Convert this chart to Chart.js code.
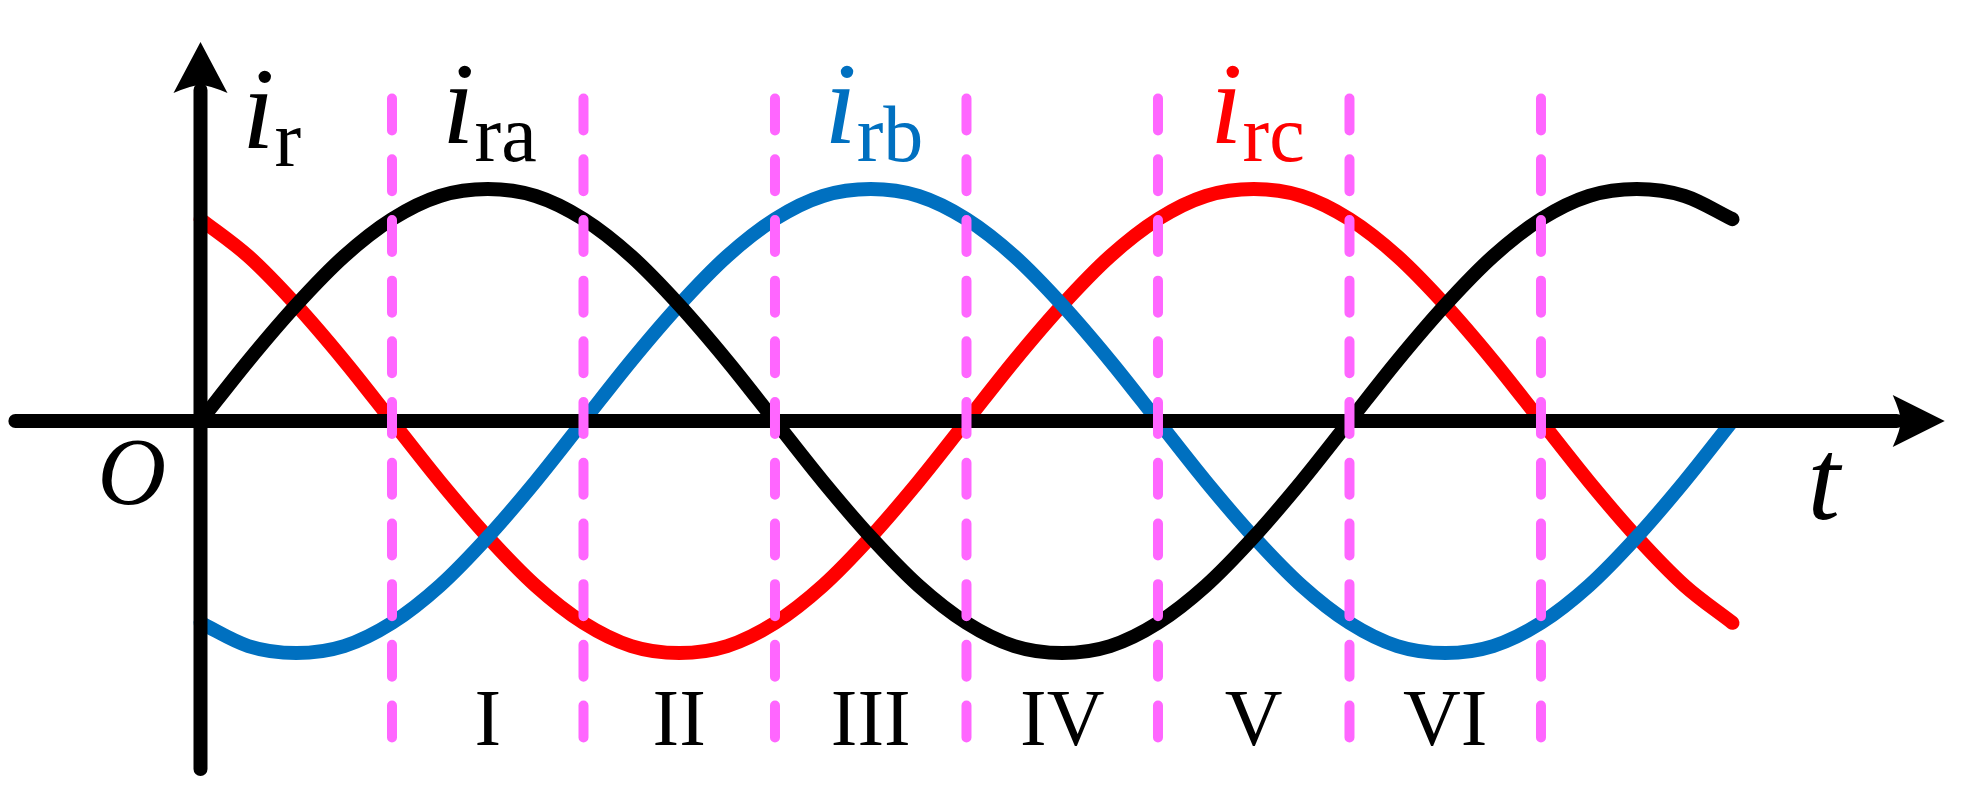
<!DOCTYPE html>
<html lang="en">
<head>
  <meta charset="UTF-8">
  <title>i_ra, i_rb, i_rc</title>
  <script src="https://cdn.jsdelivr.net/npm/chart.js"></script>
  <style>
    html, body {
      margin: 0;
      padding: 0;
      background: #fff;
    }

    .chart-box {
      position: relative;
      width: 1961px;
      height: 808px;
    }
  </style>
</head>
<body>
  <div class="chart-box">
    <canvas id="chartWave"></canvas>
  </div>
  <script>
  // electrical angle, degrees
  const theta = [0, 15, 30, 45, 60, 75, 90, 105, 120, 135, 150, 165, 180, 195, 210, 225, 240,
                 255, 270, 285, 300, 315, 330, 345, 360, 375, 390, 405, 420, 435, 450, 465, 480];

  // currents (1 = peak)
  const iRa = [0, .26, .5, .71, .87, .97, 1, .97, .87, .71, .5, .26, 0, -.26, -.5, -.71, -.87,
               -.97, -1, -.97, -.87, -.71, -.5, -.26, 0, .26, .5, .71, .87, .97, 1, .97, .87];
  const iRb = [-.87, -.97, -1, -.97, -.87, -.71, -.5, -.26, 0, .26, .5, .71, .87, .97, 1, .97, .87,
               .71, .5, .26, 0, -.26, -.5, -.71, -.87, -.97, -1, -.97, -.87, -.71, -.5, -.26, 0];
  const iRc = [.87, .71, .5, .26, 0, -.26, -.5, -.71, -.87, -.97, -1, -.97, -.87, -.71, -.5, -.26, 0,
               .26, .5, .71, .87, .97, 1, .97, .87, .71, .5, .26, 0, -.26, -.5, -.71, -.87];

  // sector boundaries (dashed lines) and sector names
  const boundaries = [60, 120, 180, 240, 300, 360, 420];
  const dashTop = 1.39;
  const dashBottom = -1.37;
  const sectorNames = ["I", "II", "III", "IV", "V", "VI"];
  const sectorCenters = [90, 150, 210, 270, 330, 390];

  // axis extents
  const xAxisFrom = -58;
  const xAxisTo = 546.5;
  const yAxisTop = 1.634;
  const yAxisBottom = -1.5;

  const BLACK = "#000000";
  const BLUE = "#0070c0";
  const RED = "#ff0000";
  const PINK = "#ff66ff";
  const SERIF = "'Liberation Serif', 'Times New Roman', serif";

  function toPoints(values) {
    return theta.map((t, i) => ({ x: t, y: values[i] }));
  }

  function curve(values, color) {
    return {
      data: toPoints(values),
      borderColor: color,
      borderWidth: 14,
      borderCapStyle: "round",
      borderJoinStyle: "round",
      cubicInterpolationMode: "monotone",
      pointRadius: 0,
      fill: false,
      order: 1
    };
  }

  const datasets = [
    curve(iRa, BLACK),
    curve(iRb, BLUE),
    curve(iRc, RED)
  ];

  boundaries.forEach(b => {
    datasets.push({
      data: [{ x: b, y: dashTop }, { x: b, y: dashBottom }],
      borderColor: PINK,
      borderWidth: 10,
      borderDash: [32, 28.7],
      borderCapStyle: "round",
      pointRadius: 0,
      fill: false,
      order: 0
    });
  });

  // axes with arrow heads: over the curves, under the dashed lines
  function drawAxes(chart) {
    const ctx = chart.ctx;
    const sx = chart.scales.x, sy = chart.scales.y;
    const x0 = sx.getPixelForValue(0);
    const y0 = sy.getPixelForValue(0);
    const xl = sx.getPixelForValue(xAxisFrom);
    const xr = sx.getPixelForValue(xAxisTo);
    const yt = sy.getPixelForValue(yAxisTop);
    const yb = sy.getPixelForValue(yAxisBottom);

    ctx.save();
    ctx.strokeStyle = BLACK;
    ctx.fillStyle = BLACK;
    ctx.lineWidth = 14;
    ctx.lineCap = "round";

    ctx.beginPath();
    ctx.moveTo(xl, y0);
    ctx.lineTo(xr - 48, y0);
    ctx.stroke();

    ctx.beginPath();
    ctx.moveTo(x0, yb);
    ctx.lineTo(x0, yt + 48);
    ctx.stroke();

    // arrow on t
    ctx.beginPath();
    ctx.moveTo(xr, y0);
    ctx.lineTo(xr - 52, y0 - 26);
    ctx.quadraticCurveTo(xr - 44, y0 - 8, xr - 44, y0);
    ctx.quadraticCurveTo(xr - 44, y0 + 8, xr - 52, y0 + 26);
    ctx.closePath();
    ctx.fill();

    // arrow on i_r
    ctx.beginPath();
    ctx.moveTo(x0, yt);
    ctx.lineTo(x0 - 27, yt + 51);
    ctx.quadraticCurveTo(x0 - 8, yt + 43, x0, yt + 43);
    ctx.quadraticCurveTo(x0 + 8, yt + 43, x0 + 27, yt + 51);
    ctx.closePath();
    ctx.fill();
    ctx.restore();
  }

  const axesPlugin = {
    id: "axes",
    afterDatasetDraw(chart, args) {
      // black curve (index 0) is the last curve drawn
      if (args.index === 0) drawAxes(chart);
    }
  };

  // text labels
  function symbol(ctx, x, y, main, sub, color) {
    ctx.fillStyle = color;
    ctx.textAlign = "left";
    ctx.textBaseline = "alphabetic";
    ctx.font = "italic 117px " + SERIF;
    ctx.fillText(main, x, y);
    const w = ctx.measureText(main).width;
    ctx.font = "80px " + SERIF;
    ctx.fillText(sub, x + w, y + 18);
  }

  const labelsPlugin = {
    id: "labels",
    afterDatasetsDraw(chart) {
      const ctx = chart.ctx;
      const sx = chart.scales.x, sy = chart.scales.y;
      ctx.save();

      symbol(ctx, sx.getPixelForValue(13), sy.getPixelForValue(1.177), "i", "r", BLACK);
      symbol(ctx, sx.getPixelForValue(75.7), sy.getPixelForValue(1.198), "i", "ra", BLACK);
      symbol(ctx, sx.getPixelForValue(195.4), sy.getPixelForValue(1.198), "i", "rb", BLUE);
      symbol(ctx, sx.getPixelForValue(316.3), sy.getPixelForValue(1.198), "i", "rc", RED);

      ctx.fillStyle = BLACK;
      ctx.textAlign = "center";
      ctx.font = "italic 95px " + SERIF;
      ctx.fillText("O", sx.getPixelForValue(-21.5), sy.getPixelForValue(-0.357));
      ctx.font = "italic 117px " + SERIF;
      ctx.fillText("t", sx.getPixelForValue(508.6), sy.getPixelForValue(-0.422));

      ctx.font = "80px " + SERIF;
      sectorNames.forEach((name, i) => {
        ctx.fillText(name, sx.getPixelForValue(sectorCenters[i]), sy.getPixelForValue(-1.397));
      });
      ctx.restore();
    }
  };

  new Chart(document.getElementById("chartWave"), {
    type: "line",
    data: { datasets: datasets },
    options: {
      responsive: true,
      maintainAspectRatio: false,
      animation: false,
      events: [],
      layout: { padding: 0 },
      plugins: {
        legend: { display: false },
        tooltip: { enabled: false }
      },
      scales: {
        x: { type: "linear", min: -62.82, max: 551.6, display: false },
        y: { type: "linear", min: -1.668, max: 1.8147, display: false }
      }
    },
    plugins: [axesPlugin, labelsPlugin]
  });
</script>
</body>
</html>
